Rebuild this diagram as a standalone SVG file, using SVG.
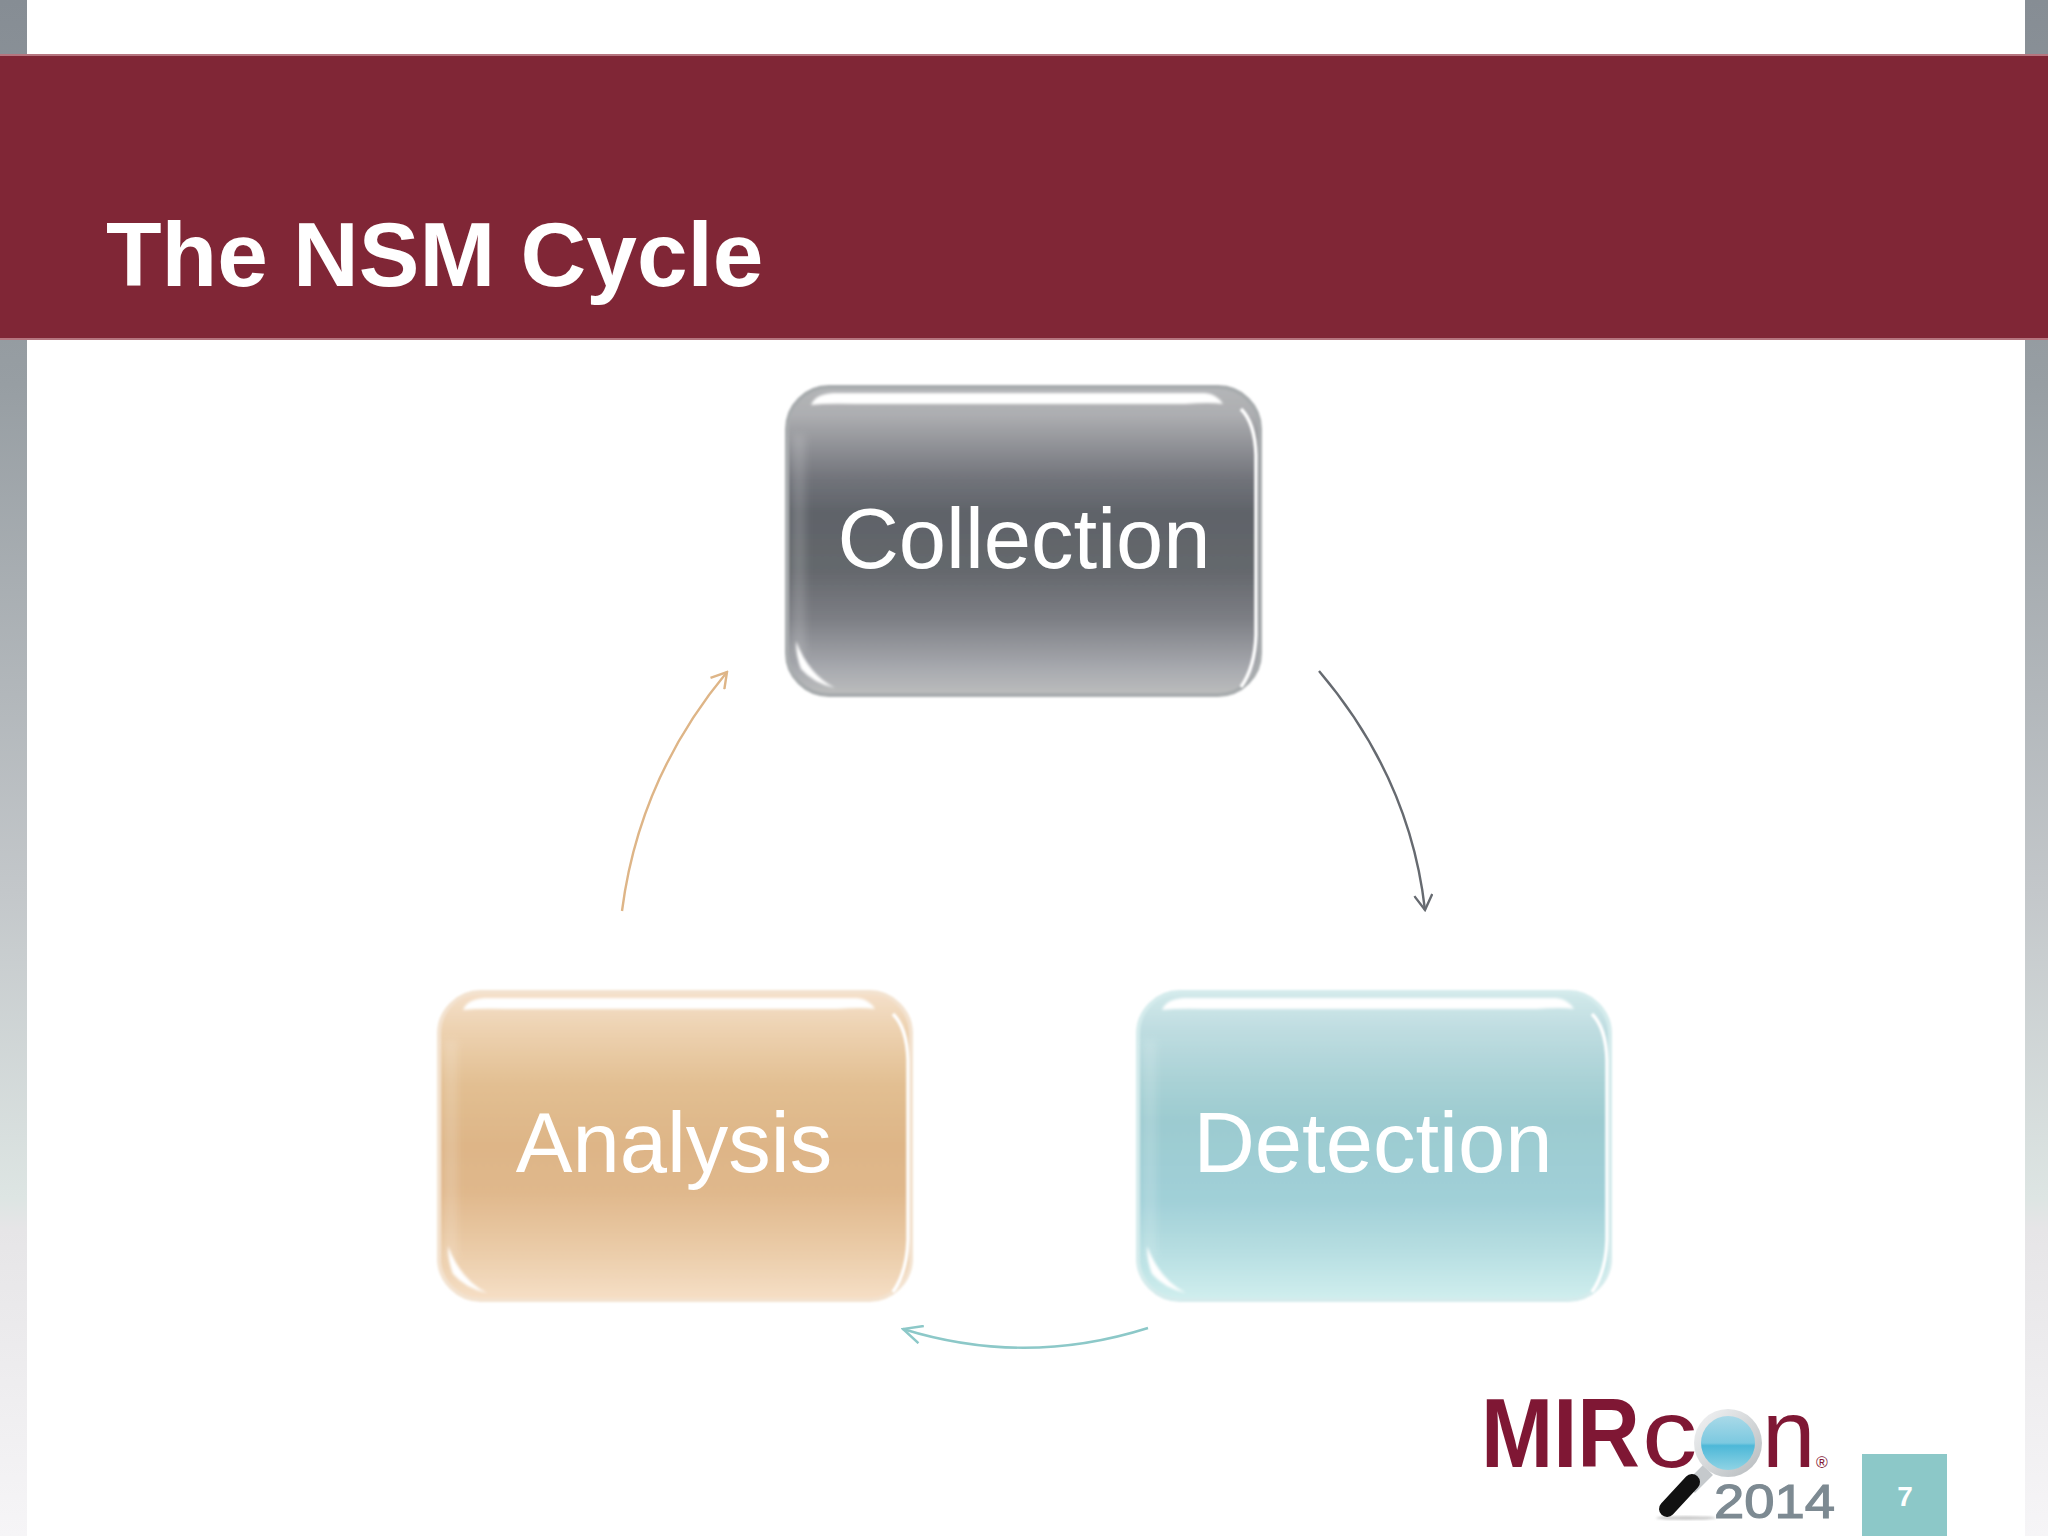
<svg xmlns="http://www.w3.org/2000/svg" width="2048" height="1536" viewBox="0 0 2048 1536">
<style>
text{font-family:"Liberation Sans",Arial,sans-serif}
.lbl{font-size:85px;fill:#fff;text-anchor:middle}
.conn{fill:none;stroke-width:2.4;filter:url(#b05)}
.gloss{fill:#fff;filter:url(#b2)}
.gline{fill:none;stroke:#fff;stroke-width:3.5;filter:url(#b1)}
.strip{fill:#fff;opacity:.16;filter:url(#b3)}
.body{filter:url(#b1)}
</style>
<defs>
<linearGradient id="side" x1="0" y1="0" x2="0" y2="1"><stop offset="0" stop-color="#868d94"/><stop offset=".25" stop-color="#979ea3"/><stop offset=".58" stop-color="#c3c7ca"/><stop offset=".78" stop-color="#dde5e3"/><stop offset=".8" stop-color="#e6e5e7"/><stop offset="1" stop-color="#f6f5f7"/></linearGradient>
<linearGradient id="gGrey" x1="0" y1="0" x2="0" y2="1"><stop offset="0" stop-color="#b4b6b8"/><stop offset=".09" stop-color="#adaeb1"/><stop offset=".3" stop-color="#71737a"/><stop offset=".41" stop-color="#5f6369"/><stop offset=".6" stop-color="#65686d"/><stop offset=".75" stop-color="#7c7e84"/><stop offset=".92" stop-color="#a9abb0"/><stop offset="1" stop-color="#bcbdbd"/></linearGradient>
<linearGradient id="gTan" x1="0" y1="0" x2="0" y2="1"><stop offset="0" stop-color="#f5e0ca"/><stop offset=".12" stop-color="#edd2b1"/><stop offset=".3" stop-color="#e2bf92"/><stop offset=".5" stop-color="#deb587"/><stop offset=".65" stop-color="#e0b88c"/><stop offset=".85" stop-color="#ebcdaa"/><stop offset="1" stop-color="#f6dfc6"/></linearGradient>
<linearGradient id="gBlue" x1="0" y1="0" x2="0" y2="1"><stop offset="0" stop-color="#d2e9ea"/><stop offset=".12" stop-color="#bfdde1"/><stop offset=".3" stop-color="#a8d1d5"/><stop offset=".42" stop-color="#9ccbd0"/><stop offset=".68" stop-color="#a1d0d8"/><stop offset=".85" stop-color="#b8dfe2"/><stop offset="1" stop-color="#d0eeee"/></linearGradient>
<linearGradient id="lens" x1="0" y1="0" x2="0" y2="1"><stop offset="0" stop-color="#a9d9e8"/><stop offset=".5" stop-color="#7cc9e0"/><stop offset=".55" stop-color="#4db8d8"/><stop offset="1" stop-color="#8fd3e4"/></linearGradient>
<linearGradient id="ring" x1="0" y1="0" x2="1" y2="1"><stop offset="0" stop-color="#f4f5f6"/><stop offset="1" stop-color="#b5babd"/></linearGradient>
<filter id="b05" x="-20%" y="-20%" width="140%" height="140%"><feGaussianBlur stdDeviation=".5"/></filter>
<filter id="b1" x="-20%" y="-20%" width="140%" height="140%"><feGaussianBlur stdDeviation="1"/></filter>
<filter id="b2" x="-30%" y="-60%" width="160%" height="220%"><feGaussianBlur stdDeviation="1.6"/></filter>
<filter id="b3" x="-100%" y="-20%" width="300%" height="140%"><feGaussianBlur stdDeviation="4"/></filter>
<marker id="aGrey" viewBox="-16 -10 18 20" refX="0" refY="0" markerWidth="18" markerHeight="20" markerUnits="userSpaceOnUse" orient="auto"><path d="M-15-9 0 0-15 9" fill="none" stroke="#666a70" stroke-width="2.4"/></marker>
<marker id="aTan" viewBox="-16 -10 18 20" refX="0" refY="0" markerWidth="18" markerHeight="20" markerUnits="userSpaceOnUse" orient="auto"><path d="M-15-9 0 0-15 9" fill="none" stroke="#deb587" stroke-width="2.4"/></marker>
<marker id="aBlue" viewBox="-20 -10 22 20" refX="0" refY="0" markerWidth="22" markerHeight="20" markerUnits="userSpaceOnUse" orient="auto"><path d="M-19-9 0 0-19 9" fill="none" stroke="#8cc8c8" stroke-width="2.4"/></marker>
<g id="glossShape">
<rect class="strip" x="8" y="50" width="12" height="220"/>
<path class="gloss" d="M26 20Q30 9 48 8H420Q432 9 438 19Q425 17 400 19H70Q42 18 26 20Z"/>
<path class="gline" d="M456 24Q470 38 471 70V250Q470 282 456 302"/>
<path class="gloss" d="M11 256Q24 290 50 303Q28 298 16 284Q11 272 11 256Z"/>
</g>
</defs>
<rect width="2048" height="1536" fill="#fff"/>
<rect x="0" y="0" width="27" height="1536" fill="url(#side)"/>
<rect x="2025" y="0" width="23" height="1536" fill="url(#side)"/>
<rect x="0" y="54" width="2048" height="286" fill="#b5757f"/>
<rect x="0" y="56" width="2048" height="282" fill="#802636"/>
<text x="106" y="286" font-size="91" font-weight="bold" fill="#fff">The NSM Cycle</text>
<g id="connectors">
<path class="conn" stroke="#666a70" marker-end="url(#aGrey)" d="M1319 671Q1410 778 1425 910"/>
<path class="conn" stroke="#deb587" marker-end="url(#aTan)" d="M622 911Q639 778 727 672"/>
<path class="conn" stroke="#8cc8c8" marker-end="url(#aBlue)" d="M1148 1328Q1025 1367 903 1329"/>
</g>
<g id="collection">
<rect class="body" x="787" y="387" width="473" height="308" rx="42" fill="url(#gGrey)" stroke="#a8acae" stroke-width="4"/>
<use href="#glossShape" x="785" y="385"/>
<text class="lbl" x="1024" y="568">Collection</text>
</g>
<g id="analysis">
<rect class="body" x="439" y="992" width="472" height="308" rx="42" fill="url(#gTan)" stroke="#f3e2cf" stroke-width="4"/>
<use href="#glossShape" x="437" y="990"/>
<text class="lbl" x="674" y="1172">Analysis</text>
</g>
<g id="detection">
<rect class="body" x="1138" y="992" width="472" height="308" rx="42" fill="url(#gBlue)" stroke="#d4ebec" stroke-width="4"/>
<use href="#glossShape" x="1136" y="990"/>
<text class="lbl" x="1373" y="1172">Detection</text>
</g>
<g id="logo">
<text transform="translate(1481 1467) scale(.885 1)" x="0" y="0" font-size="98" font-weight="bold" fill="#7f1734">MIR</text>
<text transform="translate(1642 1467) scale(1.15 1)" x="0" y="0" font-size="96" fill="#7f1734">c</text>
<text x="1762" y="1467" font-size="96" fill="#7f1734">n</text>
<text x="1816" y="1468" font-size="16" fill="#7f1734">®</text>
<text x="1714" y="1518" font-size="48" fill="#7d8a92" stroke="#7d8a92" stroke-width="1.2" textLength="121" lengthAdjust="spacingAndGlyphs">2014</text>
<ellipse cx="1686" cy="1518" rx="30" ry="2" fill="#ccc" filter="url(#b1)"/>
<path d="M1708 1470 1690 1488" stroke="#c5c9cc" stroke-width="14"/>
<path d="M1692 1482 1667 1509" stroke="#111" stroke-width="16" stroke-linecap="round"/>
<circle cx="1728" cy="1443" r="34" fill="url(#ring)"/>
<circle cx="1728" cy="1443" r="27" fill="url(#lens)"/>
</g>
<g id="page">
<rect x="1862" y="1454" width="85" height="82" fill="#8cc8c8"/>
<text x="1905" y="1506" font-size="28" font-weight="bold" fill="#fff" text-anchor="middle">7</text>
</g>
</svg>
